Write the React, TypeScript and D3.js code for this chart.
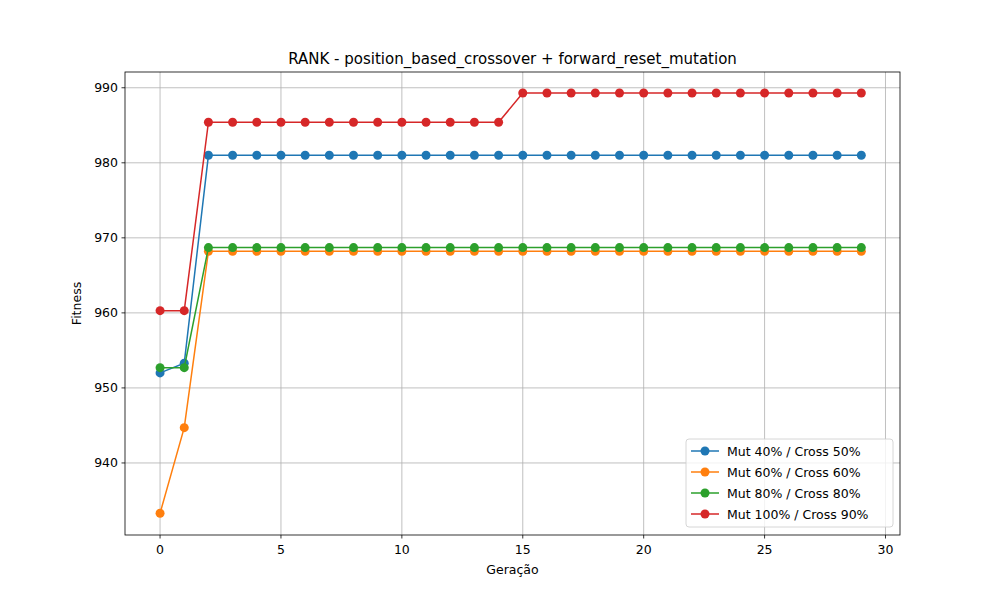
import * as d3 from "d3";

const generations = d3.range(0, 30);
const seriesNames = [
  "Mut 40% / Cross 50%",
  "Mut 60% / Cross 60%",
  "Mut 80% / Cross 80%",
  "Mut 100% / Cross 90%",
];
const colors = ["#1f77b4", "#ff7f0e", "#2ca02c", "#d62728"];

const mut40 = [952.0, 953.3, ...Array(28).fill(981.0)];
const mut60 = [933.3, 944.7, ...Array(28).fill(968.2)];
const mut80 = [952.7, 952.7, ...Array(28).fill(968.7)];
const mut100 = [960.3, 960.3, ...Array(13).fill(985.4), ...Array(15).fill(989.3)];
const allSeries = [mut40, mut60, mut80, mut100];

const xTicks = [0, 5, 10, 15, 20, 25, 30];
const yTicks = [940, 950, 960, 970, 980, 990];

const W = 1000, H = 600;
const L = 125, R = 900, T = 72, B = 535;

export default function App() {
  const x = d3.scaleLinear().domain([-1.45, 30.6]).range([L, R]);
  const y = d3.scaleLinear().domain([930.4, 992.1]).range([B, T]);
  const line = d3.line<number>().x((_, i) => x(generations[i])).y((d) => y(d));
  const font = "DejaVu Sans, sans-serif";

  return (
    <div style={{ position: "absolute", left: 0, top: 0 }}>
      <svg width={W} height={H} fontFamily={font} style={{ display: "block", background: "#fff" }}>
        {xTicks.map((t) => (
          <g key={"x" + t}>
            <line x1={x(t)} x2={x(t)} y1={T} y2={B} stroke="#b0b0b0" strokeWidth={0.8} />
            <line x1={x(t)} x2={x(t)} y1={B} y2={B + 3.5} stroke="#000" strokeWidth={0.8} />
            <text x={x(t)} y={B + 19} fontSize={12.5} textAnchor="middle">{t}</text>
          </g>
        ))}
        {yTicks.map((t) => (
          <g key={"y" + t}>
            <line x1={L} x2={R} y1={y(t)} y2={y(t)} stroke="#b0b0b0" strokeWidth={0.8} />
            <line x1={L - 3.5} x2={L} y1={y(t)} y2={y(t)} stroke="#000" strokeWidth={0.8} />
            <text x={L - 7} y={y(t) + 4.5} fontSize={12.5} textAnchor="end">{t}</text>
          </g>
        ))}
        {allSeries.map((s, k) => (
          <g key={k}>
            <path d={line(s) || ""} fill="none" stroke={colors[k]} strokeWidth={1.5} />
            {s.map((v, i) => (
              <circle key={i} cx={x(generations[i])} cy={y(v)} r={4.5} fill={colors[k]} />
            ))}
          </g>
        ))}
        <rect x={L} y={T} width={R - L} height={B - T} fill="none" stroke="#000" strokeWidth={0.8} />
        <text x={(L + R) / 2} y={T - 8} fontSize={15} textAnchor="middle">
          RANK - position_based_crossover + forward_reset_mutation
        </text>
        <text x={(L + R) / 2} y={574} fontSize={12.5} textAnchor="middle">Geração</text>
        <text transform={`translate(81,${(T + B) / 2}) rotate(-90)`} fontSize={12.5} textAnchor="middle">Fitness</text>
        <g>
          <rect x={686} y={439} width={207} height={88} rx={3} fill="#fff" fillOpacity={0.8} stroke="#ccc" strokeWidth={0.8} />
          {seriesNames.map((n, k) => (
            <g key={n} transform={`translate(0,${451 + k * 21})`}>
              <line x1={691} x2={719} y1={0} y2={0} stroke={colors[k]} strokeWidth={1.5} />
              <circle cx={705} cy={0} r={4.5} fill={colors[k]} />
              <text x={727} y={4.5} fontSize={12.5}>{n}</text>
            </g>
          ))}
        </g>
      </svg>
    </div>
  );
}
